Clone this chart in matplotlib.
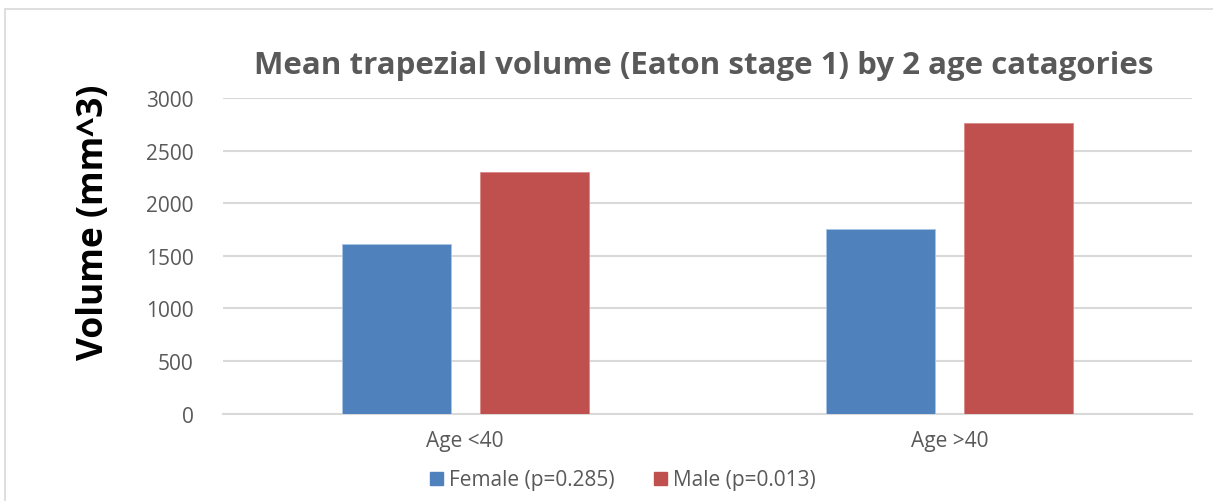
import matplotlib.pyplot as plt
import matplotlib.patches as mpatches
import numpy as np

categories = ["Age <40", "Age >40"]
female = [1615, 1752]
male = [2297, 2762]
series_labels = ["Female (p=0.285)", "Male (p=0.013)"]
yticks = [0, 500, 1000, 1500, 2000, 2500, 3000]

blue = "#4F81BD"
red = "#C0504D"
grey_text = "#595959"
grid_col = "#D9D9D9"

plt.rcParams['font.family'] = ['Open Sans', 'DejaVu Sans']

W, H = 1213, 502
fig = plt.figure(figsize=(W / 100, H / 100), dpi=100)

# outer chart frame (runs off the right and bottom edges)
fig.patches.append(mpatches.Rectangle((5 / W, -0.2), 1.2, 1.2 - 10 / H,
                                      transform=fig.transFigure, fill=False,
                                      edgecolor=grid_col, linewidth=1.2))

ax = fig.add_axes([223 / W, 1 - 414.6 / H, (1192 - 223) / W, (414.6 - 99) / H])

x = np.arange(len(categories))
bw = 0.225
off = 0.142
ax.bar(x - off, female, bw, color=blue, edgecolor="#A9C4E6", linewidth=0.6,
       label=series_labels[0], zorder=3)
ax.bar(x + off, male, bw, color=red, edgecolor="#D98A88", linewidth=0.6,
       label=series_labels[1], zorder=3)

ax.set_xlim(-0.5, 1.5)
ax.set_ylim(0, 3000)
ax.set_yticks(yticks)
ax.set_yticklabels([str(v) for v in yticks], fontsize=15, color=grey_text)
ax.set_xticks(x)
ax.set_xticklabels(categories, fontsize=15, color=grey_text)
ax.tick_params(axis="y", length=0, pad=21)
ax.tick_params(axis="x", length=0, pad=12)
ax.yaxis.grid(True, color=grid_col, linewidth=1.5, zorder=0)
for s in ["top", "right", "left"]:
    ax.spines[s].set_visible(False)
ax.spines["bottom"].set_color(grid_col)
ax.spines["bottom"].set_linewidth(1.5)

fig.text(704 / W, 1 - 66 / H, "Mean trapezial volume (Eaton stage 1) by 2 age catagories",
         ha="center", va="center", fontsize=22.5, fontweight="bold", color=grey_text)
fig.text(94 / W, 1 - 222 / H, "Volume (mm^3)", ha="center", va="center",
         rotation=90, fontsize=25.5, fontweight="bold", color="black")

handles = [mpatches.Patch(color=blue), mpatches.Patch(color=red)]
fig.legend(handles, series_labels, loc="center", bbox_to_anchor=(623 / W, 1 - 481 / H),
           ncol=2, frameon=False, fontsize=15, handlelength=0.6, handleheight=0.6,
           handletextpad=0.3, columnspacing=1.9, labelcolor=grey_text)

fig.savefig("out.png", dpi=100)
